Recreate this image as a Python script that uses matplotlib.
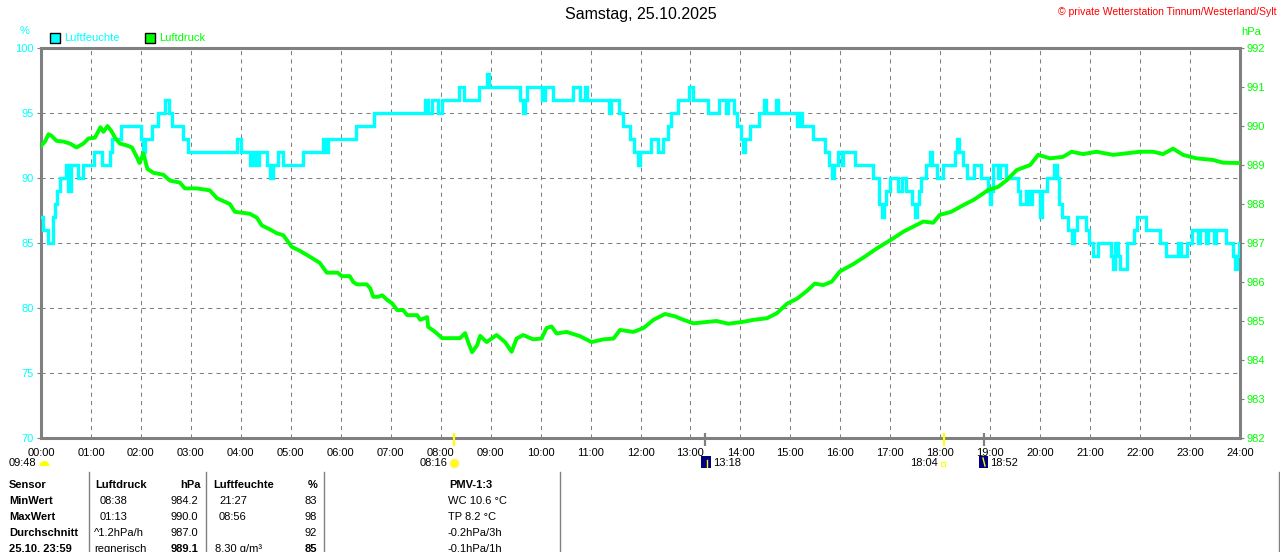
import matplotlib
matplotlib.use("Agg")
import matplotlib.pyplot as plt
from matplotlib.patches import Rectangle, Wedge
from matplotlib.transforms import IdentityTransform

plt.rcParams['font.family'] = ['Liberation Sans', 'DejaVu Sans']

W, H = 1280, 552

# ---------------- data ----------------
title = "Samstag, 25.10.2025"
copyright_text = "\u00a9 private Wetterstation Tinnum/Westerland/Sylt"

hour_labels = ["%02d:00" % h for h in range(25)]
hum_ticks = [70, 75, 80, 85, 90, 95, 100]
press_ticks = [982, 983, 984, 985, 986, 987, 988, 989, 990, 991, 992]

hum_t = [0.00,0.05,0.14,0.24,0.28,0.32,0.38,0.50,0.54,0.60,0.74,0.84,1.06,1.22,1.38,1.42,1.60,2.00,2.04,2.08,
         2.22,2.34,2.48,2.56,2.62,2.84,2.94,3.92,4.00,4.18,4.24,4.30,4.36,4.52,4.58,4.64,4.74,4.84,5.24,5.64,
         5.68,5.74,6.30,6.66,7.69,7.75,7.83,7.95,8.03,8.37,8.47,8.77,8.93,8.97,9.59,9.65,9.69,9.73,10.03,10.09,
         10.25,10.65,10.79,10.89,10.93,11.37,11.41,11.57,11.65,11.79,11.87,11.95,11.99,12.21,12.35,12.45,12.55,12.61,12.75,12.97,
         13.05,13.35,13.57,13.71,13.75,13.87,13.93,14.01,14.05,14.09,14.19,14.37,14.47,14.51,14.71,14.75,15.13,15.17,15.23,15.45,
         15.69,15.77,15.83,15.87,15.95,16.03,16.05,16.29,16.65,16.77,16.83,16.87,16.91,16.99,17.15,17.23,17.31,17.43,17.49,17.53,
         17.57,17.61,17.71,17.79,17.83,17.93,18.05,18.29,18.33,18.37,18.45,18.53,18.67,18.81,18.95,18.99,19.01,19.05,19.15,19.19,
         19.31,19.55,19.59,19.71,19.77,19.83,19.99,20.03,20.13,20.27,20.33,20.37,20.43,20.56,20.64,20.68,20.74,20.92,20.98,21.06,
         21.16,21.42,21.46,21.50,21.56,21.60,21.74,21.88,21.94,22.12,22.40,22.52,22.76,22.82,22.94,23.04,23.16,23.20,23.32,23.36,
         23.48,23.52,23.72,23.86,23.90,23.94,23.98,24.00]
hum_v = [87,86,85,87,88,89,90,91,89,91,90,91,92,91,92,93,94,93,92,93,
         94,95,96,95,94,93,92,93,92,91,92,91,92,91,90,91,92,91,92,93,
         92,93,94,95,96,95,96,95,96,97,96,97,98,97,96,95,96,97,96,97,
         96,97,96,97,96,95,96,95,94,93,92,91,92,93,92,93,94,95,96,97,
         96,95,96,95,96,95,94,93,92,93,94,95,96,95,96,95,94,95,94,93,
         92,91,90,91,92,91,92,91,90,88,87,88,89,90,89,90,89,88,87,88,
         89,90,91,92,91,90,91,92,93,92,91,90,91,90,89,88,89,91,90,91,
         90,89,88,89,88,89,87,89,90,91,90,88,87,86,85,86,87,86,85,84,
         85,84,83,85,84,83,85,86,87,86,85,84,85,84,85,86,85,86,85,86,
         85,86,85,84,83,84,85,85]

press_t = [0.00,0.08,0.15,0.21,0.31,0.45,0.58,0.71,0.85,0.95,1.08,1.19,1.25,1.33,1.42,1.48,1.58,1.72,1.82,1.92,
           1.97,2.05,2.13,2.25,2.45,2.58,2.78,2.88,3.12,3.38,3.52,3.78,3.88,4.18,4.32,4.42,4.58,4.72,4.85,5.02,
           5.18,5.38,5.58,5.72,5.94,6.02,6.18,6.25,6.32,6.52,6.59,6.65,6.75,6.83,6.93,7.03,7.13,7.25,7.33,7.53,
           7.59,7.73,7.75,7.89,8.03,8.39,8.49,8.55,8.63,8.73,8.79,8.92,9.12,9.29,9.42,9.52,9.65,9.85,10.02,10.12,
           10.22,10.32,10.52,10.79,11.02,11.26,11.46,11.59,11.86,12.06,12.26,12.49,12.69,12.86,13.06,13.52,13.76,14.06,14.26,14.53,
           14.73,14.93,15.13,15.33,15.49,15.66,15.83,15.99,16.26,16.49,16.73,17.06,17.26,17.46,17.66,17.86,17.99,18.22,18.46,18.66,
           18.86,18.96,19.16,19.33,19.53,19.80,19.96,20.20,20.46,20.63,20.86,21.13,21.46,21.73,22.00,22.26,22.46,22.66,22.86,23.13,
           23.46,23.66,24.00]
press_v = [989.49,989.60,989.79,989.75,989.62,989.60,989.55,989.45,989.55,989.68,989.70,989.97,989.85,990.00,989.85,989.70,989.55,989.50,989.45,989.20,
           989.05,989.30,988.90,988.80,988.75,988.60,988.55,988.40,988.40,988.35,988.15,988.00,987.80,987.75,987.65,987.45,987.35,987.25,987.20,986.90,
           986.80,986.65,986.49,986.24,986.24,986.15,986.15,986.00,985.94,985.94,985.84,985.62,985.62,985.66,985.54,985.45,985.28,985.28,985.15,985.15,
           985.03,985.10,984.85,984.72,984.56,984.56,984.69,984.46,984.20,984.38,984.62,984.46,984.64,984.46,984.21,984.55,984.64,984.53,984.55,984.82,
           984.86,984.68,984.72,984.61,984.46,984.53,984.55,984.77,984.72,984.82,985.03,985.18,985.12,985.03,984.94,985.00,984.93,984.98,985.03,985.07,
           985.20,985.44,985.57,985.77,985.96,985.92,986.01,986.27,986.46,986.65,986.86,987.12,987.29,987.42,987.55,987.52,987.72,987.80,987.97,988.10,
           988.27,988.36,988.44,988.61,988.87,989.00,989.26,989.17,989.21,989.34,989.28,989.34,989.26,989.30,989.34,989.34,989.28,989.42,989.26,989.17,
           989.13,989.06,989.05]

# astronomical events (time label, kind)
event_labels = ["09:48", "08:16", "13:18", "18:04", "18:52"]
event_kinds = ["moonset", "sunrise", "moonrise_icon", "sunset", "moon_icon"]
marker_events = [("08:16", "#FFFF00"), ("13:18", "#808080"), ("18:04", "#FFFF00"), ("18:52", "#808080")]

# table
table_header = ["Sensor", "Luftdruck", "hPa", "Luftfeuchte", "%", "PMV-1:3"]
row_names = ["MinWert", "MaxWert", "Durchschnitt", "25.10. 23:59"]
press_col1 = ["08:38", "01:13", "^1.2hPa/h", "regnerisch"]
press_col2 = ["984.2", "990.0", "987.0", "989.1"]
hum_col1 = ["21:27", "08:56", "", "8.30 g/m\u00b3"]
hum_col2 = ["83", "98", "92", "85"]
pmv_col = ["WC 10.6 \u00b0C", "TP 8.2 \u00b0C", "-0.2hPa/3h", "-0.1hPa/1h"]

CYAN = "#00FFFF"
GREEN = "#00FF00"
GRAY = "#808080"

def hm(s):
    h, m = s.split(":")
    return int(h) + int(m) / 60.0

def fx(x):
    return x / W

def fy(y):
    return 1 - y / H

# ---------------- figure ----------------
fig = plt.figure(figsize=(W / 100, H / 100), dpi=100)
ax = fig.add_axes([41 / W, (H - 438) / H, 1199 / W, 390 / H])
ax.set_xlim(0, 24)
ax.set_ylim(70, 100)

for s in ax.spines.values():
    s.set_color(GRAY)
    s.set_linewidth(2.2)

# grid
for h in range(1, 24):
    ax.axvline(h, color=GRAY, lw=0.75, linestyle=(0, (4, 4)), zorder=1)
for v in [75, 80, 85, 90, 95]:
    ax.axhline(v, color=GRAY, lw=0.75, linestyle=(0, (4, 4)), zorder=1)

ax.plot(hum_t, hum_v, color=CYAN, lw=2.4, drawstyle='steps-post', zorder=3,
        solid_joinstyle='miter')

ax.set_xticks(range(25))
ax.set_xticklabels(hour_labels, fontsize=8)
ax.tick_params(axis='x', length=0, pad=7.5, colors='black')
ax.set_yticks(hum_ticks)
ax.set_yticklabels([str(v) for v in hum_ticks], fontsize=8, color=CYAN)
ax.tick_params(axis='y', length=3, width=0.8, color=GRAY, pad=2)

ax2 = ax.twinx()
ax2.set_ylim(982, 992)
ax2.set_xlim(0, 24)
for s in ax2.spines.values():
    s.set_visible(False)
ax2.plot(press_t, press_v, color=GREEN, lw=2.8, zorder=4)
ax2.set_yticks(press_ticks)
ax2.set_yticklabels([str(v) for v in press_ticks], fontsize=8, color=GREEN)
ax2.tick_params(axis='y', length=3, width=0.8, color=GRAY, pad=1.5)

# event markers on x axis
xt = ax.get_xaxis_transform()
for t, c in marker_events:
    ax.plot([hm(t), hm(t)], [0.013, -0.021], color=c, lw=1.6, transform=xt,
            clip_on=False, zorder=6, solid_capstyle='butt')

# ---------------- texts ----------------
fig.text(fx(641), fy(15), title, ha='center', va='center', fontsize=11.5, color='black')
fig.text(fx(1276), fy(12), copyright_text, ha='right', va='center', fontsize=7.5, color='#FF0000')
fig.text(fx(25), fy(31), "%", ha='center', va='center', fontsize=8, color=CYAN)
fig.text(fx(1241), fy(32), "hPa", ha='left', va='center', fontsize=8, color=GREEN)

# legend
idt = IdentityTransform()
fig.add_artist(Rectangle((50, H - 43), 10, 10, transform=idt, facecolor=CYAN, edgecolor='black', lw=1))
fig.text(fx(64), fy(38), "Luftfeuchte", ha='left', va='center', fontsize=8, color=CYAN)
fig.add_artist(Rectangle((145, H - 43), 10, 10, transform=idt, facecolor=GREEN, edgecolor='black', lw=1))
fig.text(fx(159), fy(38), "Luftdruck", ha='left', va='center', fontsize=8, color=GREEN)

# event labels and icons
ey = 463
fig.text(fx(9), fy(ey), event_labels[0], ha='left', va='center', fontsize=8)
fig.add_artist(Wedge((44.5, H - 466), 5, 0, 180, transform=idt, facecolor='#FFFF00', edgecolor='none'))
fig.text(fx(448), fy(ey), event_labels[1], ha='right', va='center', fontsize=8)
fig.add_artist(plt.Line2D([454], [H - ey], marker='o', markersize=6, color='#FFFF00',
                          markeredgecolor='#FFF080', transform=idt))
fig.add_artist(Rectangle((701, H - 468), 10, 12, transform=idt, facecolor='#000080', edgecolor='none'))
fig.add_artist(plt.Line2D([707, 707], [H - 467, H - 460], color='#FFFF00', lw=1, transform=idt))
fig.text(fx(713), fy(ey), event_labels[2], ha='left', va='center', fontsize=8)
fig.text(fx(938), fy(ey), event_labels[3], ha='right', va='center', fontsize=8)
fig.add_artist(Rectangle((941, H - 466), 4, 4, transform=idt, facecolor='none', edgecolor='#FFFF00', lw=0.8))
fig.add_artist(Rectangle((979, H - 468), 9, 12, transform=idt, facecolor='#000080', edgecolor='none'))
fig.add_artist(plt.Line2D([983, 985], [H - 458, H - 466], color='#FFFF00', lw=1, transform=idt))
fig.text(fx(990), fy(ey), event_labels[4], ha='left', va='center', fontsize=8)

# table
for xs in [88.5, 206, 324, 559.5, 1279]:
    fig.add_artist(plt.Line2D([xs, xs], [0, H - 472], color=GRAY, lw=1, transform=idt))

hy = 485
fig.text(fx(9), fy(hy), table_header[0], ha='left', va='center', fontsize=8, fontweight='bold')
fig.text(fx(95), fy(hy), table_header[1], ha='left', va='center', fontsize=8, fontweight='bold')
fig.text(fx(201), fy(hy), table_header[2], ha='right', va='center', fontsize=8, fontweight='bold')
fig.text(fx(213), fy(hy), table_header[3], ha='left', va='center', fontsize=8, fontweight='bold')
fig.text(fx(317), fy(hy), table_header[4], ha='right', va='center', fontsize=8, fontweight='bold')
fig.text(fx(449), fy(hy), table_header[5], ha='left', va='center', fontsize=8, fontweight='bold')

row_y = [501, 517, 533, 549]
for i, ry in enumerate(row_y):
    last = (i == 3)
    fig.text(fx(9), fy(ry), row_names[i], ha='left', va='center', fontsize=8, fontweight='bold')
    px1 = 100 if i < 2 else 94
    fig.text(fx(px1), fy(ry), press_col1[i], ha='left', va='center', fontsize=8)
    fig.text(fx(198), fy(ry), press_col2[i], ha='right', va='center', fontsize=8,
             fontweight='bold' if last else 'normal')
    hx1 = 219 if i < 2 else 215
    fig.text(fx(hx1), fy(ry), hum_col1[i], ha='left', va='center', fontsize=8)
    fig.text(fx(317), fy(ry), hum_col2[i], ha='right', va='center', fontsize=8,
             fontweight='bold' if last else 'normal')
    fig.text(fx(448), fy(ry), pmv_col[i], ha='left', va='center', fontsize=8)

fig.savefig("out.png", dpi=100, facecolor='white')
